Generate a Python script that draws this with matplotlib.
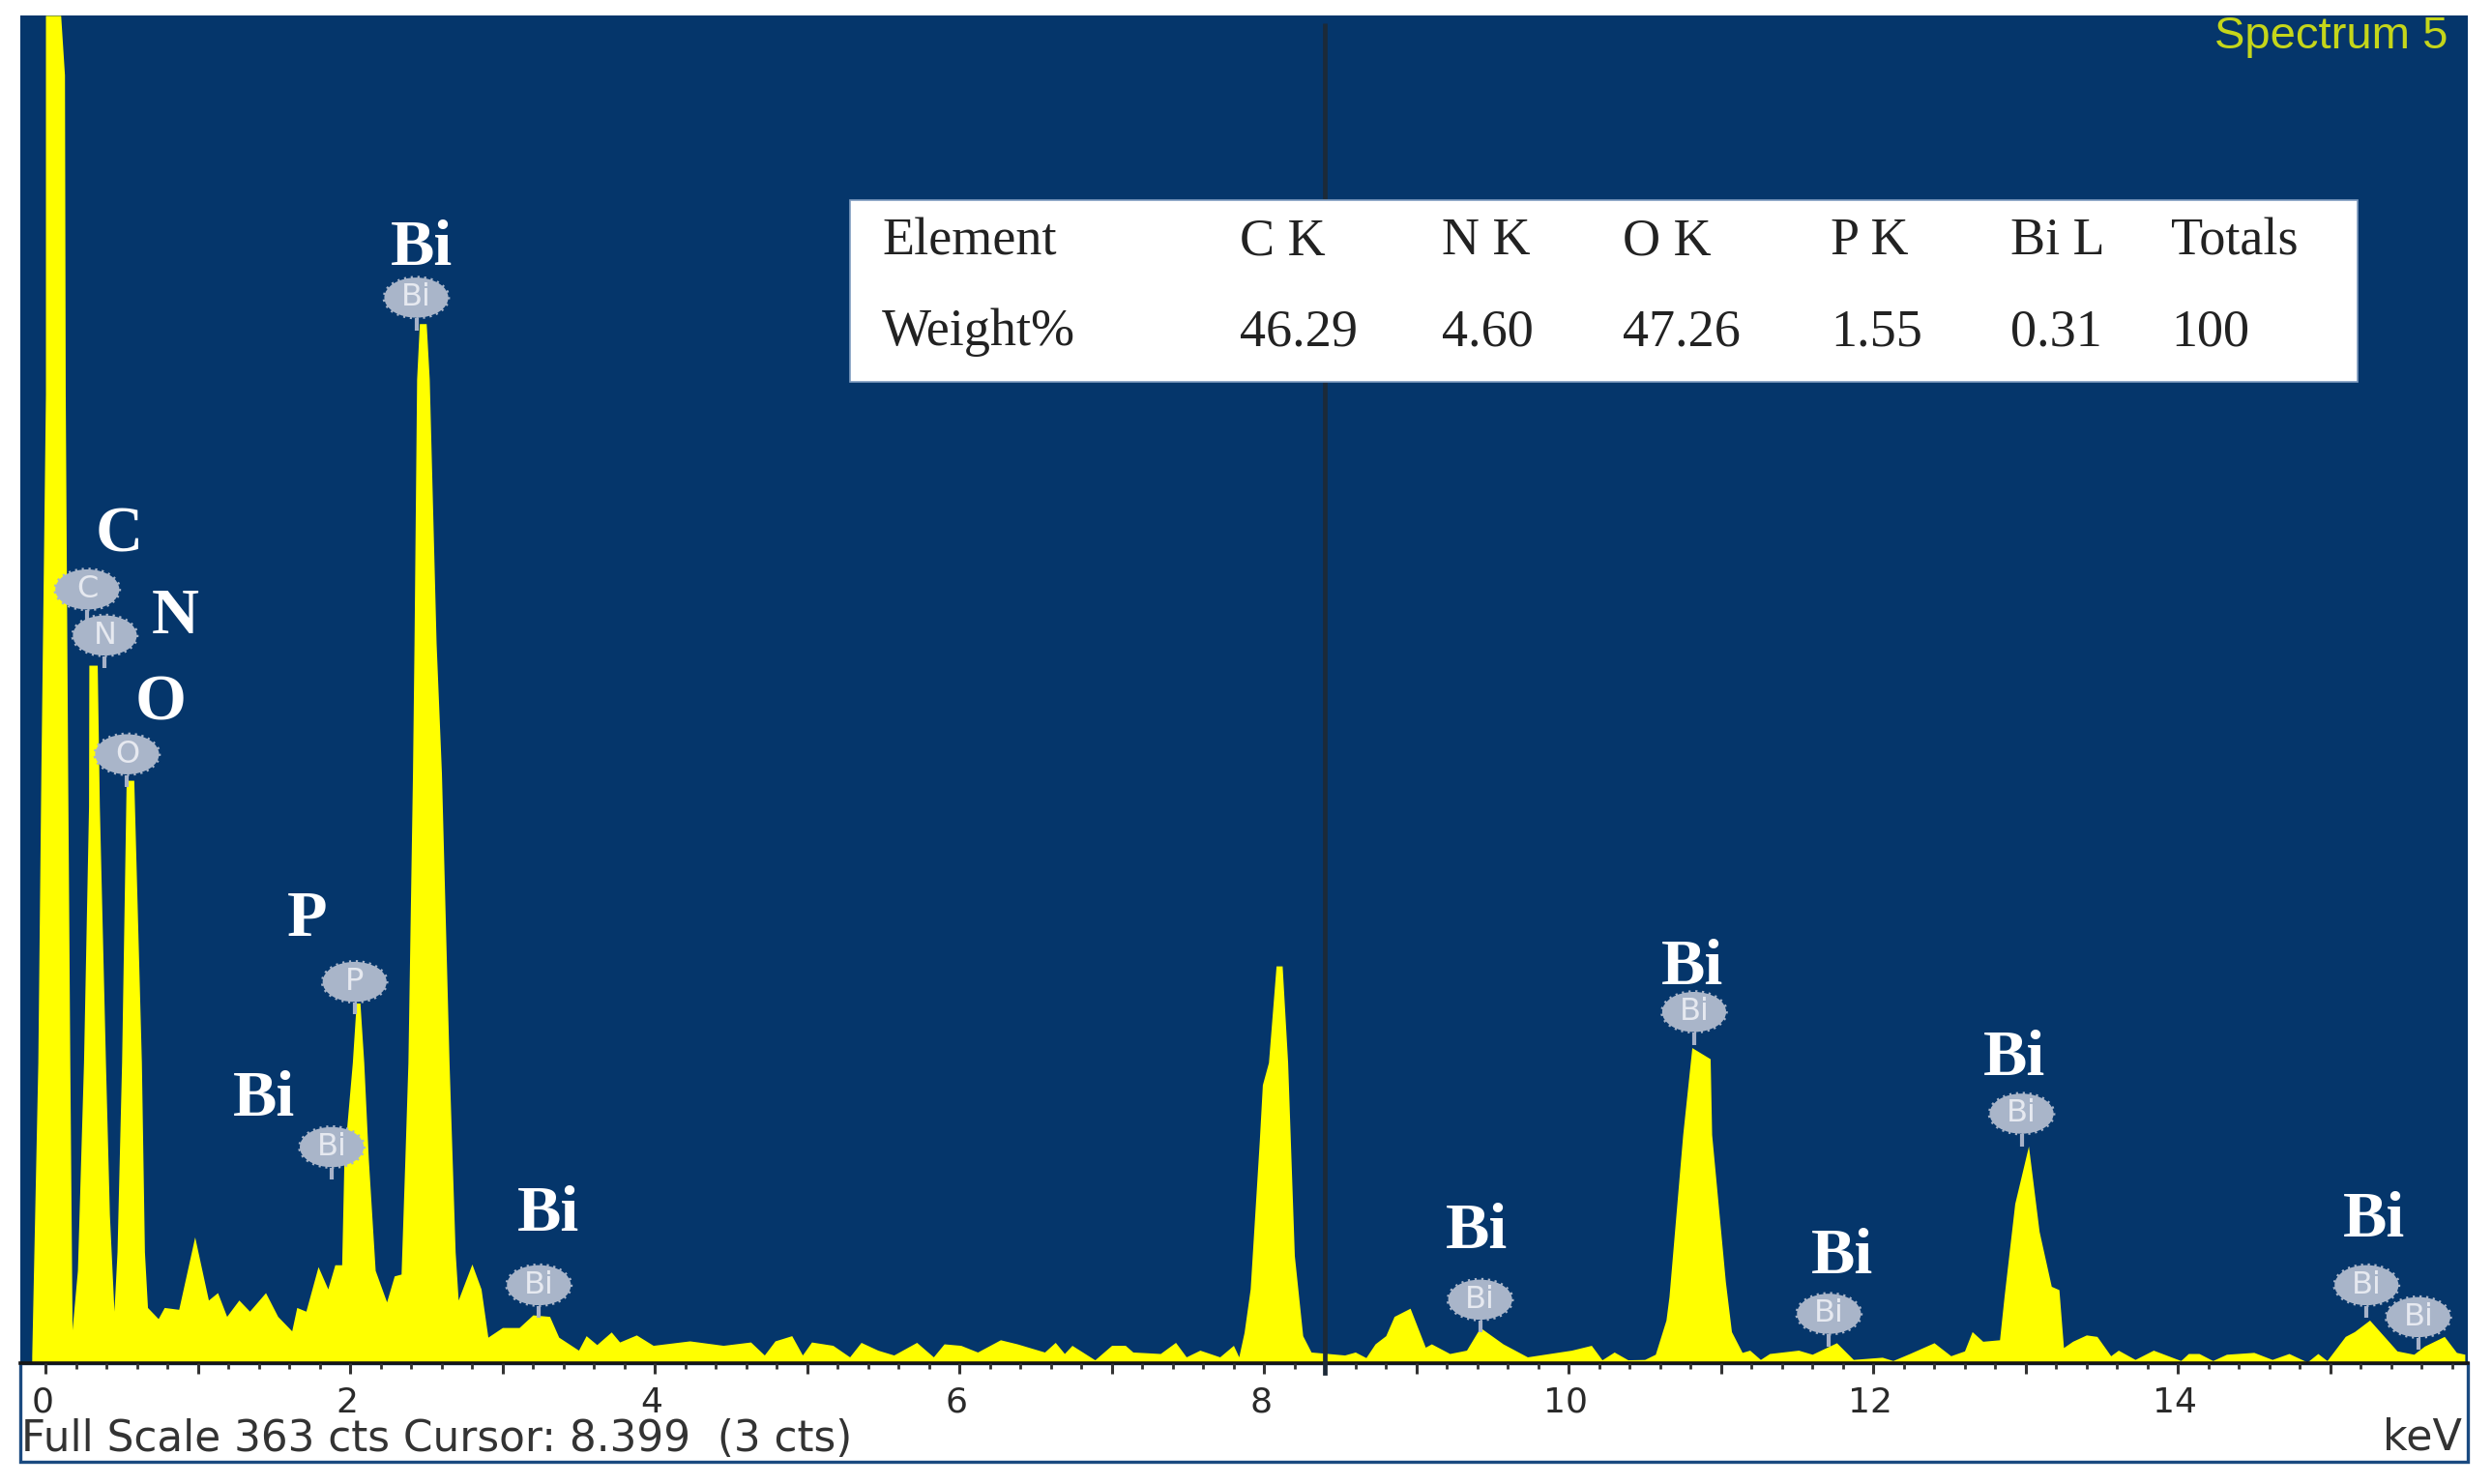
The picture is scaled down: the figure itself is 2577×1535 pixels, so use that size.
import matplotlib
matplotlib.use("Agg")
import matplotlib.pyplot as plt
from matplotlib.patches import Ellipse, Rectangle
from matplotlib.transforms import ScaledTranslation
import numpy as np

W, H = 2577, 1535

energy_kev = [-0.09,-0.05,-0.03,0.0,0.0,0.10,0.125,0.13,0.146,0.16,0.175,0.21,0.25,0.283,0.285,0.34,0.354,0.394,0.42,0.45,
 0.47,0.50,0.53,0.58,0.63,0.65,0.67,0.74,0.78,0.875,0.98,1.07,1.13,1.19,1.27,1.34,1.445,1.525,1.617,1.65,1.71,1.79,1.854,1.90,1.945,
 1.96,2.015,2.04,2.065,2.09,2.12,2.165,2.24,2.29,2.335,2.36,2.38,2.41,2.42,2.437,2.455,2.50,2.52,2.565,2.60,2.65,2.69,2.71,2.80,2.86,2.905,
 3.0,3.11,3.2,3.31,3.37,3.5,3.55,3.62,3.715,3.77,3.88,3.99,4.23,4.45,4.63,4.72,4.79,4.9,4.97,5.03,5.17,5.28,5.355,5.465,5.57,5.72,5.83,5.90,
 6.01,6.12,6.27,6.38,6.56,6.63,6.69,6.74,6.89,7.0,7.09,7.14,7.32,7.42,7.49,7.58,7.71,7.8,7.835,7.87,7.91,7.97,7.99,8.03,8.08,8.12,8.156,8.2,8.255,
 8.31,8.42,8.53,8.6,8.67,8.73,8.8,8.855,8.96,9.06,9.1,9.22,9.33,9.42,9.57,9.73,10.02,10.15,10.22,10.3,10.39,10.5,10.57,10.64,10.66,10.75,10.81,10.93,10.94,10.98,11.03,11.07,11.14,11.19,11.26,11.32,
 11.51,11.6,11.76,11.87,12.06,12.13,12.24,12.4,12.51,12.6,12.65,12.72,12.83,12.86,12.93,13.02,13.09,13.17,13.22,13.25,13.31,13.4,13.47,13.56,13.61,13.72,13.84,14.02,14.07,14.14,14.23,14.32,14.5,14.62,14.73,14.85,14.92,14.98,
 15.1,15.16,15.26,15.44,15.55,15.62,15.75,15.83,15.885]
counts = [2,81,159,261,363,363,347,261,159,81,9,25,81,150,188,188,150,81,40,14,
 30,81,157,157,81,30,15,12,15,14.5,34,17,19,12.6,17,14,19,12.6,8.7,15,14,26,20,26.5,26.5,
 55,81,97,97,81,55,25,16.5,23.5,24,55,81,159,194,265,280,280,265,194,159,81,30,17,26.7,20,7,
 9.6,9.6,13,12.6,7,3.5,7.4,5,8.4,5.7,7.6,4.8,6,4.8,5.7,2.2,6,7.4,2.2,5.7,4.8,1.7,5.6,3.5,2.2,5.6,1.7,5.2,
 4.8,3,6.3,5.2,3,5.6,2.6,4.8,0.9,4.8,4.8,3,2.6,5.6,1.7,3.5,1.7,4.8,1.7,8.3,20,60,75,81,107,107,81,29,7.4,
 3,2.6,2.2,3,1.5,5.2,7.4,12.6,14.8,4.3,5.2,2.6,3.5,9.6,5.2,1.7,3.5,4.8,0.9,3,0.9,1,2.4,11.6,18,61.6,85,82,61.6,44,22,8.5,2.9,3.5,1,2.6,
 3.5,2.4,5.5,1,1.6,0.7,2.6,5.5,2,3.3,8.5,5.9,6.3,18,43,58.5,35.5,20.7,19.8,4.2,5.9,7.6,7.2,2,3.5,1,3.5,0.7,2.6,2.6,0.7,2.4,2.9,1,2.6,0.3,2.6,0.7,
 7.2,8.5,11.6,3.3,2.4,4.6,7.2,2.9,2.4]

badge_names = ["Bi","C","N","O","P","Bi","Bi","Bi","Bi","Bi","Bi","Bi","Bi"]
badge_kev = [2.435,0.275,0.39,0.536,2.03,1.88,3.24,9.42,10.825,11.71,12.975,15.24,15.58]
badge_cts = [287,208.4,196,164,102.7,58.2,21,17.1,94.6,13.3,67.2,21,12.4]

label_names = ["Bi","C","N","O","P","Bi","Bi","Bi","Bi","Bi","Bi","Bi"]
label_kev = [2.467,0.484,0.85,0.756,1.716,1.434,3.30,9.395,10.81,11.795,12.93,15.29]
label_cts = [300,222.8,201,177.5,119.3,70.9,40,35.4,106.4,28.5,82,38.4]

table_header = ["Element","C K","N K","O K","P K","Bi L","Totals"]
table_values = ["Weight%","46.29","4.60","47.26","1.55","0.31","100"]

major_ticks = list(range(0, 16))
major_labels = ["0","","2","","4","","6","","8","","10","","12","","14",""]
cursor_kev = 8.399
full_scale = 363

BG = "#05366b"
YEL = "#ffff00"
fig = plt.figure(figsize=(W/100, H/100), dpi=100, facecolor="white")
def fx(x): return x/W
def fy(y): return 1 - y/H
ax = fig.add_axes([fx(21), fy(1410), fx(2552-21), 1394/H], zorder=2, facecolor=BG)
ax.set_xlim((21-47)/157.5, (2552-47)/157.5)
ax.set_ylim(0, full_scale)
for s in ["top","left","right"]:
    ax.spines[s].set_visible(False)
ax.spines["bottom"].set_linewidth(2.6)
ax.spines["bottom"].set_color("#151515")
ax.set_axisbelow(False)
ax.fill_between(energy_kev, 0, counts, color=YEL, lw=0, zorder=2)
ax.plot([cursor_kev, cursor_kev], [0, 361], color="#1c2a38", lw=3.4, zorder=3, solid_capstyle="butt")
ax.plot([cursor_kev, cursor_kev], [-2.5, 0], color="#1c2a38", lw=3.4, zorder=3, clip_on=False)

ax.set_xticks(major_ticks)
ax.set_xticklabels(major_labels, fontsize=26, color="#2a2a2a", family="DejaVu Sans")
ax.set_xticks(np.arange(0, 15.9, 0.2), minor=True)
ax.set_yticks([])
ax.tick_params(axis="x", which="major", length=8, width=2.2, color="#333333", pad=9)
ax.tick_params(axis="x", which="minor", length=4, width=2.0, color="#333333")
shift = ScaledTranslation(-3/100, 0, fig.dpi_scale_trans)
for lab in ax.get_xticklabels():
    lab.set_transform(lab.get_transform() + shift)

# lower white panel
fig.add_artist(Rectangle((fx(21), fy(1512)), fx(2552-21), 102/H, transform=fig.transFigure,
                         facecolor="white", edgecolor="#1a4a80", lw=2.4, zorder=0))

# element badges
for n, k, c in zip(badge_names, badge_kev, badge_cts):
    ax.plot([k, k], [c-5.6, c-8.8], color="#a7b2c8", lw=3.0, zorder=5, solid_capstyle="butt")
    ax.add_patch(Ellipse((k, c), 0.42, 10.8, facecolor="#a9b5c9", edgecolor="#a9b5c9", lw=2.6,
                         ls=(0, (0.6, 1.3)), zorder=5))
    ax.text(k, c, n, ha="center", va="center", color="#e6e9f0", fontsize=23, family="DejaVu Sans", zorder=6)

# bold element labels
for n, k, c in zip(label_names, label_kev, label_cts):
    ax.text(k, c, n, ha="center", va="center", color="white", fontsize=49, fontweight="bold",
            family="Liberation Serif", zorder=6)

# composition table
ax.add_patch(Rectangle((fx(879), fy(395)), fx(2438-879), 188/H, transform=fig.transFigure,
                       facecolor="white", edgecolor="#7f9cc0", lw=1.2, zorder=7, clip_on=False))
col_px = [912, 1282, 1491, 1678, 1893, 2079, 2245]
for px, a, b in zip(col_px, table_header, table_values):
    ax.text(fx(px), fy(263), a, transform=fig.transFigure, fontsize=39, family="Liberation Serif",
            color="#222222", ha="left", va="baseline", zorder=8)
    ax.text(fx(px), fy(357), b, transform=fig.transFigure, fontsize=39, family="Liberation Serif",
            color="#222222", ha="left", va="baseline", zorder=8)

ax.text(fx(2532), fy(50), "Spectrum 5", transform=fig.transFigure, fontsize=34, family="Liberation Sans",
        color="#c5d61a", ha="right", va="baseline", zorder=8)
ax.text(fx(22), fy(1501), "Full Scale 363 cts Cursor: 8.399  (3 cts)", transform=fig.transFigure, fontsize=31.5,
        family="DejaVu Sans", color="#333333", ha="left", va="baseline", zorder=8)
ax.text(fx(2546), fy(1499), "keV", transform=fig.transFigure, fontsize=32, family="DejaVu Sans",
        color="#333333", ha="right", va="baseline", zorder=8)

fig.savefig("out.png", dpi=100, facecolor="white")
